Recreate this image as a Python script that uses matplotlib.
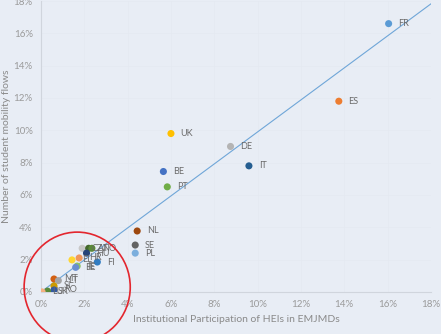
import matplotlib.pyplot as plt
from matplotlib.patches import Ellipse
from matplotlib.ticker import PercentFormatter

# country codes, institutional participation (%) and mobility flows (%)
countries = ["FR", "ES", "UK", "DE", "IT", "BE", "PT", "NL", "SE", "PL", "FI",
             "CZ", "AT", "NO", "HU", "HR", "EL", "IE", "EE",
             "MT", "LT", "SI", "RO", "SK", "LU"]
participation = [16.05, 13.75, 6.0, 8.75, 9.6, 5.65, 5.83, 4.44, 4.35, 4.35, 2.6,
                 1.9, 2.2, 2.35, 2.1, 1.76, 1.43, 1.67, 1.6,
                 0.6, 0.8, 0.6, 0.6, 0.3, 0.05]
mobility = [16.6, 11.8, 9.8, 9.0, 7.8, 7.45, 6.5, 3.77, 2.9, 2.4, 1.85,
            2.7, 2.7, 2.7, 2.4, 2.1, 1.98, 1.6, 1.52,
            0.8, 0.7, 0.37, 0.12, 0.05, 0.0]
colors = ["#5b9bd5", "#ed7d31", "#ffc000", "#b4b4b4", "#255e91", "#4472c4",
          "#70ad47", "#9e480e", "#636363", "#7cafdd", "#327dc2",
          "#c8c8c8", "#43682b", "#5a8a39", "#264478", "#f1975a", "#ffd633",
          "#8cc168", "#698ed0",
          "#d26012", "#a5a5a5", "#cc9a00", "#335aa1", "#5a8a39", "#f4b183"]

# linear trend line
trend_x = [0, 18]
trend_slope = 0.99
trend_intercept = 0.0

bg = "#e8edf5"
fig = plt.figure(figsize=(4.41, 3.34), dpi=100, facecolor=bg)
ax = fig.add_axes([0.093, 0.126, 0.884, 0.871])
ax.set_facecolor(bg)

ax.plot(trend_x, [trend_slope * v + trend_intercept for v in trend_x],
        color="#6fa6d8", lw=0.8, zorder=2)

ax.scatter(participation, mobility, c=colors, s=26, zorder=3, linewidths=0)

for name, x, y in zip(countries, participation, mobility):
    ax.annotate(name, (x, y), xytext=(7, 0), textcoords="offset points",
                va="center", ha="left", fontsize=6.5, color="#6a6a6a",
                family="Lato", zorder=4)

ax.set_xlim(0, 18)
ax.set_ylim(0, 18)
ax.set_xticks(range(0, 19, 2))
ax.set_yticks(range(0, 19, 2))
ax.xaxis.set_major_formatter(PercentFormatter(decimals=0))
ax.yaxis.set_major_formatter(PercentFormatter(decimals=0))
ax.tick_params(labelsize=7, colors="#9a9a9a", length=0, pad=6)
for lab in ax.get_xticklabels() + ax.get_yticklabels():
    lab.set_family("Lato")

ax.grid(True, color="#e4e9f1", lw=0.5)
ax.set_axisbelow(True)
for side in ["top", "right"]:
    ax.spines[side].set_visible(False)
for side in ["left", "bottom"]:
    ax.spines[side].set_color("#d0d5dd")
    ax.spines[side].set_linewidth(0.8)

ax.set_xlabel("Institutional Participation of HEIs in EMJMDs", fontsize=7.5,
              color="#8a8a8a", family="Lato", labelpad=4)
ax.set_ylabel("Number of student mobility flows", fontsize=7.5,
              color="#8a8a8a", family="Lato", labelpad=2)

# red highlight circle around the small countries
circle = Ellipse((1.67, 0.3), width=4.9, height=6.8, fill=False,
                 edgecolor="#e3262e", lw=1.2, clip_on=False, zorder=5)
ax.add_patch(circle)

plt.savefig("out.png", dpi=100, facecolor=bg)
